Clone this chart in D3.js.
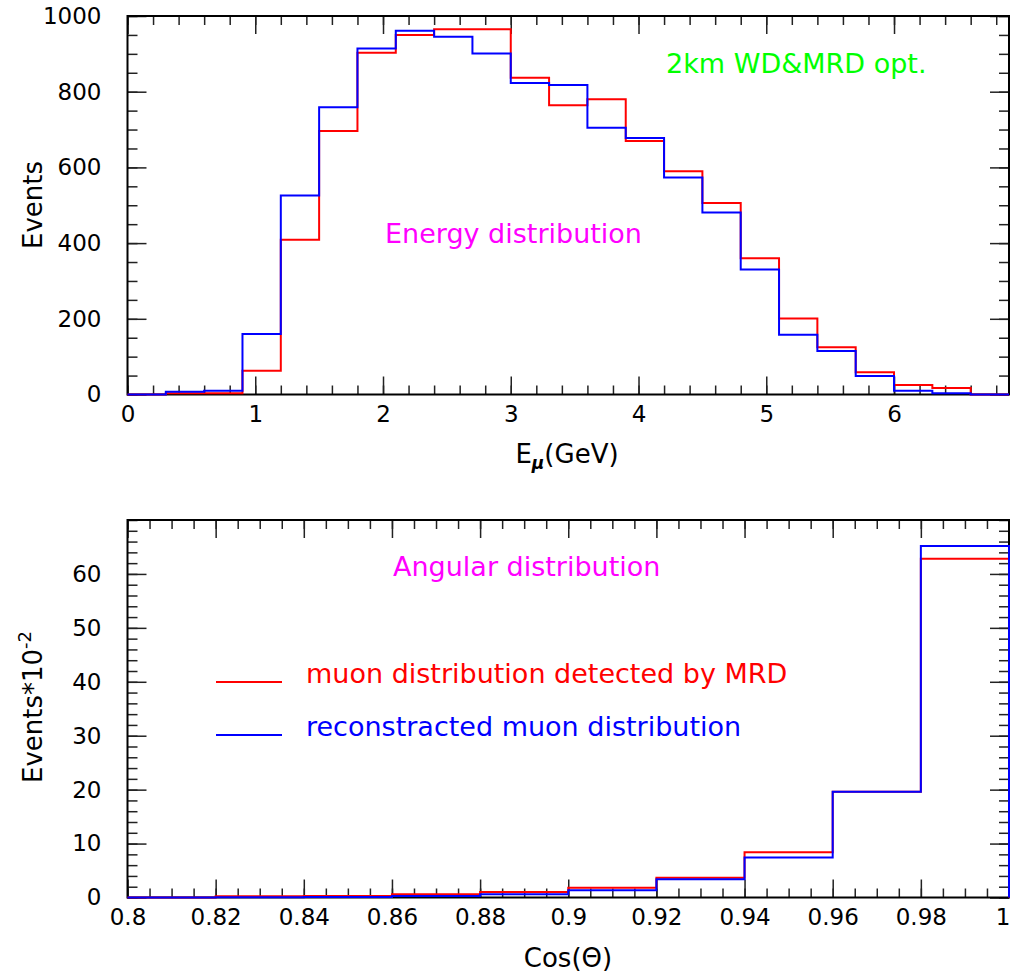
<!DOCTYPE html>
<html>
<head>
<meta charset="utf-8">
<script src="https://cdnjs.cloudflare.com/ajax/libs/d3/7.8.5/d3.min.js"></script>
<style>
  body { margin: 0; background: #fff; }
  svg { display: block; font-family: "DejaVu Sans", sans-serif; }
</style>
</head>
<body>
<svg id="chart" width="1010" height="974"></svg>
<script>
// energy histogram, bins of 0.3 GeV
const energyEdges = [0, 0.3, 0.6, 0.9, 1.2, 1.5, 1.8, 2.1, 2.4, 2.7, 3.0, 3.3, 3.6, 3.9,
  4.2, 4.5, 4.8, 5.1, 5.4, 5.7, 6.0, 6.3, 6.6, 6.9];
const energyMRD = [0, 3, 3, 63, 409, 696, 903, 950, 965, 965, 837, 764, 780, 670, 590,
  506, 360, 201, 125, 59, 25, 17, 0];
const energyReco = [0, 7, 10, 160, 526, 759, 914, 961, 945, 901, 823, 818, 705, 678, 573,
  481, 330, 158, 115, 49, 10, 3, 0];
const energyTicks = [0, 1, 2, 3, 4, 5, 6];
const eventsTicks = [0, 200, 400, 600, 800, 1000];

// angular histogram, bins of 0.02 in cos(theta), values in units of 100 events
const cosEdges = [0.80, 0.82, 0.84, 0.86, 0.88, 0.90, 0.92, 0.94, 0.96, 0.98, 1.00];
const cosMRD = [0, 0.25, 0.3, 0.6, 1.0, 1.8, 3.65, 8.4, 19.6, 62.8];
const cosReco = [0, 0.05, 0.1, 0.3, 0.6, 1.35, 3.4, 7.4, 19.6, 65.2];
const cosTicks = [0.8, 0.82, 0.84, 0.86, 0.88, 0.9, 0.92, 0.94, 0.96, 0.98, 1];
const angTicks = [0, 10, 20, 30, 40, 50, 60];

const svg = d3.select("#chart");
const RED = "#ff0000", BLUE = "#0000ff";

function stepPath(x, y, edges, vals) {
  let d = "M" + x(edges[0]) + "," + y(0);
  vals.forEach((v, i) => {
    d += "V" + y(v) + "H" + x(edges[i + 1]);
  });
  return d + "V" + y(0);
}

function panel(o) {
  const x = d3.scaleLinear().domain(o.xDomain).range([o.left, o.right]);
  const y = d3.scaleLinear().domain(o.yDomain).range([o.bottom, o.top]);
  const g = svg.append("g");

  const styleAxis = (sel) => {
    sel.select(".domain").remove();
    sel.selectAll("line").attr("stroke", "#222").attr("stroke-width", 1.5);
    sel.selectAll("text").attr("font-family", "DejaVu Sans").attr("font-size", 23).attr("fill", "#000");
  };

  // minor ticks, all four sides
  g.append("g").attr("transform", `translate(0,${o.bottom})`)
    .call(d3.axisBottom(x).tickValues(o.xMinor).tickSize(-9).tickFormat("")).call(styleAxis);
  g.append("g").attr("transform", `translate(0,${o.top})`)
    .call(d3.axisTop(x).tickValues(o.xMinor).tickSize(-9).tickFormat("")).call(styleAxis);
  g.append("g").attr("transform", `translate(${o.left},0)`)
    .call(d3.axisLeft(y).tickValues(o.yMinor).tickSize(-10).tickFormat("")).call(styleAxis);
  g.append("g").attr("transform", `translate(${o.right},0)`)
    .call(d3.axisRight(y).tickValues(o.yMinor).tickSize(-10).tickFormat("")).call(styleAxis);

  // major ticks with labels
  const xb = g.append("g").attr("transform", `translate(0,${o.bottom})`)
    .call(d3.axisBottom(x).tickValues(o.xTicks).tickSize(-18).tickPadding(11)
      .tickFormat(d3.format("~g"))).call(styleAxis);
  // last label would run past the window edge: keep it inside
  xb.selectAll("text").filter(d => x(d) > o.right - 5).attr("text-anchor", "end").attr("dx", 1);
  g.append("g").attr("transform", `translate(0,${o.top})`)
    .call(d3.axisTop(x).tickValues(o.xTicks).tickSize(-18).tickFormat("")).call(styleAxis);
  g.append("g").attr("transform", `translate(${o.left},0)`)
    .call(d3.axisLeft(y).tickValues(o.yTicks).tickSize(-19).tickPadding(26)
      .tickFormat(d3.format("d"))).call(styleAxis);
  g.append("g").attr("transform", `translate(${o.right},0)`)
    .call(d3.axisRight(y).tickValues(o.yTicks).tickSize(-19).tickFormat("")).call(styleAxis);

  // frame
  g.append("rect")
    .attr("x", o.left).attr("y", o.top)
    .attr("width", o.right - o.left).attr("height", o.bottom - o.top)
    .attr("fill", "none").attr("stroke", "#000").attr("stroke-width", 2);

  g.append("path").attr("d", stepPath(x, y, o.edges, o.red))
    .attr("fill", "none").attr("stroke", RED).attr("stroke-width", 2);
  g.append("path").attr("d", stepPath(x, y, o.edges, o.blue))
    .attr("fill", "none").attr("stroke", BLUE).attr("stroke-width", 2);

  return { g, x, y };
}

// upper: energy distribution
panel({
  left: 127.5, right: 1009, top: 16, bottom: 394.5,
  xDomain: [0, 6.9], yDomain: [0, 1000],
  xTicks: energyTicks, xMinor: d3.range(0, 6.9, 0.2),
  yTicks: eventsTicks, yMinor: d3.range(0, 1001, 50),
  edges: energyEdges, red: energyMRD, blue: energyReco
});

// lower: angular distribution
panel({
  left: 127.5, right: 1009, top: 520, bottom: 897.5,
  xDomain: [0.8, 1.0], yDomain: [0, 70],
  xTicks: cosTicks, xMinor: d3.range(0.8, 1.0001, 0.005),
  yTicks: angTicks, yMinor: d3.range(0, 70.1, 2),
  edges: cosEdges, red: cosMRD, blue: cosReco
});

// titles and annotations
const label = (txt, x, y, color, size) =>
  svg.append("text").attr("x", x).attr("y", y).attr("fill", color)
    .attr("font-size", size).text(txt);

label("2km WD&MRD opt.", 666, 73, "#00ff00", 27);
label("Energy distribution", 385, 243, "#ff00ff", 27);
label("Angular distribution", 393, 576, "#ff00ff", 27);

// legend
const legend = [
  { name: "muon distribution detected by MRD", color: RED, y: 682 },
  { name: "reconstracted muon distribution", color: BLUE, y: 735 }
];
legend.forEach(l => {
  svg.append("line").attr("x1", 216).attr("x2", 282).attr("y1", l.y).attr("y2", l.y)
    .attr("stroke", l.color).attr("stroke-width", 2);
  label(l.name, 306, l.y + 1, l.color, 27);
});

// axis titles
const xt = svg.append("text").attr("x", 567).attr("y", 463).attr("text-anchor", "middle")
  .attr("font-size", 26);
xt.append("tspan").text("E");
xt.append("tspan").attr("font-size", 17).attr("font-weight", "bold").attr("font-style", "italic")
  .attr("dy", 6).text("μ");
xt.append("tspan").attr("dy", -6).text("(GeV)");

svg.append("text").attr("x", 568).attr("y", 967).attr("text-anchor", "middle")
  .attr("font-size", 26).text("Cos(Θ)");

svg.append("text").attr("transform", "translate(42,205) rotate(-90)")
  .attr("text-anchor", "middle").attr("font-size", 26).text("Events");

const yt = svg.append("text").attr("transform", "translate(42,707) rotate(-90)")
  .attr("text-anchor", "middle").attr("font-size", 26);
yt.append("tspan").text("Events*10");
yt.append("tspan").attr("font-size", 18).attr("dy", -11).text("-2");
</script>
</body>
</html>
